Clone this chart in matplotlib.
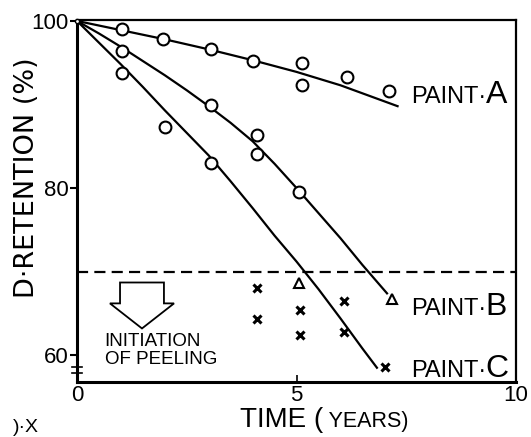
import matplotlib
matplotlib.use("Agg")
import matplotlib.pyplot as plt
from matplotlib.patches import FancyArrow

plt.rcParams['font.family'] = ['Liberation Sans', 'DejaVu Sans']

# measured points (time in years, retention %)
a_x = [1.03, 1.96, 3.05, 4.0, 5.12, 5.12, 6.15, 7.1]
a_y = [99.0, 97.8, 96.6, 95.2, 95.0, 92.3, 93.3, 91.6]
b_x = [1.03, 3.05, 4.1, 4.1, 5.06]
b_y = [96.4, 89.9, 86.3, 84.1, 79.5]
c_x = [1.03, 2.0, 3.05]
c_y = [93.8, 87.3, 83.0]

# peeling region points
tri_x = [5.06, 7.18]
tri_y = [68.6, 66.7]
cross_x = [4.1, 4.1, 5.08, 5.08, 6.08, 6.08, 7.02]
cross_y = [68.0, 64.3, 65.4, 62.4, 66.5, 62.8, 58.6]

# fitted curves
fit_a_x = [0, 1, 2, 3, 4, 5, 6, 7.3]
fit_a_y = [100, 98.9, 97.8, 96.6, 95.3, 93.9, 92.3, 89.8]
fit_b_x = [0, 0.5, 1, 1.5, 2, 2.5, 3, 3.5, 4, 4.5, 5, 5.5, 6, 6.5, 7.06]
fit_b_y = [100, 98.5, 96.9, 95.2, 93.5, 91.7, 89.8, 87.8, 85.6, 82.9, 80.0, 77.0, 74.0, 70.8, 67.4]
fit_c_x = [0, 0.5, 1, 1.5, 2, 2.5, 3, 3.5, 4, 4.5, 5, 5.5, 6, 6.5, 6.83]
fit_c_y = [100, 97.4, 94.8, 92.1, 89.3, 86.6, 83.9, 80.8, 77.6, 74.3, 71.2, 67.9, 64.4, 60.8, 58.5]

peel_level = 70

fig = plt.figure(figsize=(5.31, 4.37), dpi=100)
ax = fig.add_axes([0.145, 0.126, 0.827, 0.828])

for fx, fy in [(fit_a_x, fit_a_y), (fit_b_x, fit_b_y), (fit_c_x, fit_c_y)]:
    ax.plot(fx, fy, color='black', lw=1.6, zorder=2)

circ = dict(ls='none', marker='o', ms=8.5, mfc='white', mec='black', mew=1.5, zorder=3)
ax.plot(a_x, a_y, **circ)
ax.plot(b_x, b_y, **circ)
ax.plot(c_x, c_y, **circ)
ax.plot([0], [100], ls='none', marker='o', ms=3, mfc='white', mec='black', mew=1, zorder=4, clip_on=False)

ax.plot(tri_x, tri_y, ls='none', marker='^', ms=7, mfc='white', mec='black', mew=1.5, zorder=3)
ax.plot(cross_x, cross_y, ls='none', marker='x', ms=5.5, color='black', mew=2.2, zorder=3)

ax.axhline(peel_level, color='black', lw=1.6, ls=(0, (5, 2.8)), zorder=1)

# hollow arrow
ax.add_patch(FancyArrow(1.48, 68.7, 0, -5.5, width=1.0, head_width=1.46,
                        head_length=3.0, length_includes_head=True,
                        fill=False, ec='black', lw=1.3))
ax.text(0.63, 60.6, 'INITIATION\nOF PEELING', fontsize=13.5, va='center',
        ha='left', linespacing=1.1)


def tail(t, s, size, base_size):
    # second part of a label, sitting on the same baseline as t
    ax.annotate(s, xy=(1, 0), xycoords=t, fontsize=size, va='baseline',
                ha='left', xytext=(0, 0.215 * base_size), textcoords='offset points',
                annotation_clip=False)


for px, py, letter in [(7.6, 90.2, 'A'), (7.6, 64.8, 'B'), (7.6, 57.4, 'C')]:
    t = ax.text(px, py, 'PAINT·', fontsize=17, va='baseline', ha='left')
    tail(t, letter, 23, 17)

ax.set_xlim(0, 10)
ax.set_ylim(56.8, 100.1)
ax.set_xticks([0, 5, 10])
ax.set_yticks([60, 80, 100])
ax.tick_params(axis='y', direction='out', length=5, width=1.5, labelsize=16, pad=1)
ax.tick_params(axis='x', direction='in', length=5, width=1.2, labelsize=16, pad=2)
for s in ['left', 'bottom']:
    ax.spines[s].set_linewidth(2.2)
for s in ['top', 'right']:
    ax.spines[s].set_linewidth(1.6)

# axis break marks on the y axis
ax.plot([-0.12, 0.12], [58.6, 58.6], color='black', lw=1.2, clip_on=False, zorder=5)
ax.plot([-0.12, 0.12], [57.9, 57.9], color='black', lw=1.2, clip_on=False, zorder=5)

fig.text(0.05, 0.593, 'D·RETENTION (%)', fontsize=19.5, rotation=90,
         ha='center', va='center', family='DejaVu Sans')

t = fig.text(0.452, 0.022, 'TIME (', fontsize=20, ha='left', va='baseline')
tail(t, ' YEARS)', 15.5, 20)
fig.text(0.025, 0.012, ')·X', fontsize=14, ha='left', va='baseline')

fig.savefig('out.png', dpi=100)
